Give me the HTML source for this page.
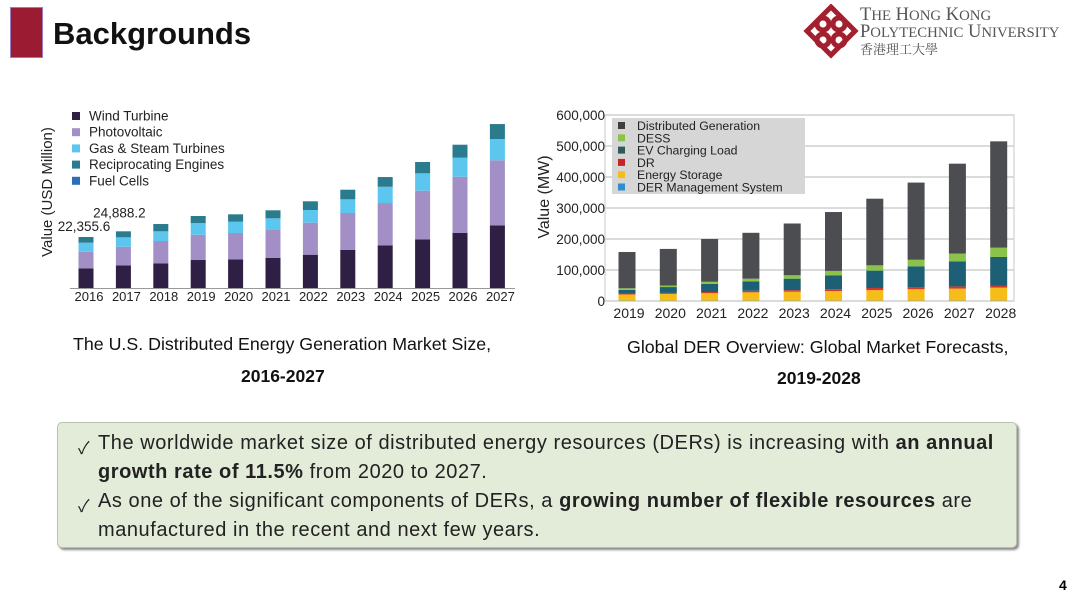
<!DOCTYPE html>
<html><head><meta charset="utf-8">
<style>
body{margin:0;width:1080px;height:605px;background:#fff;position:relative;overflow:hidden;font-family:"Liberation Sans","Noto Sans CJK TC",sans-serif;}
.abs{position:absolute;}
#box{left:57px;top:422px;width:958px;height:124px;background:#e3ebd9;border:1px solid #b9c2b0;border-radius:5px;box-shadow:2px 2px 2px #8a8a8a;}
.ln{position:absolute;left:40px;font-size:20px;letter-spacing:0.55px;color:#222;white-space:nowrap;}
.ck{position:absolute;left:20px;font-size:17px;color:#222;}
</style></head><body>
<div class="abs" style="left:10px;top:7px;width:31px;height:49px;background:#9b1b33;border:1px solid #9a7cc0;"></div>
<div class="abs" style="left:53px;top:16px;font-size:31px;font-weight:bold;color:#111;">Backgrounds</div>

<div class="abs" style="left:801px;top:4px;width:60px;height:58px;">
<svg width="60" height="58" viewBox="0 0 60 58"><g fill="none" stroke="#a3202f" stroke-width="5"><rect x="13" y="10" width="34" height="34" transform="rotate(45 30 27)"/><circle cx="22" cy="20" r="6"/><circle cx="38" cy="20" r="6"/><circle cx="22" cy="36" r="6"/><circle cx="38" cy="36" r="6"/></g></svg></div>
<div class="abs" style="left:860px;top:7px;font-family:'Liberation Serif',serif;color:#555;font-size:18.5px;line-height:16px;white-space:nowrap;">T<span style="font-size:14.8px">HE</span> H<span style="font-size:14.8px">ONG</span> K<span style="font-size:14.8px">ONG</span><br>P<span style="font-size:14.8px">OLYTECHNIC</span> U<span style="font-size:14.8px">NIVERSITY</span><br><span style="font-family:'Noto Serif CJK SC',serif;font-size:13px;">香港理工大學</span></div>

<svg class="abs" style="left:0;top:0" width="1080" height="400" id="charts"></svg>

<div class="abs" style="left:73px;top:334px;font-size:17.8px;color:#111;white-space:nowrap;">The U.S. Distributed Energy Generation Market Size,</div>
<div class="abs" style="left:241px;top:366px;font-size:17.5px;font-weight:bold;color:#111;">2016-2027</div>
<div class="abs" style="left:627px;top:337px;font-size:17.8px;color:#111;white-space:nowrap;">Global DER Overview: Global Market Forecasts,</div>
<div class="abs" style="left:777px;top:368px;font-size:17.5px;font-weight:bold;color:#111;">2019-2028</div>

<div class="abs" id="box">
<span class="ck" style="top:11px">✓</span><div class="ln" style="top:9px">The worldwide market size of distributed energy resources (DERs) is increasing with <b>an annual</b></div>
<div class="ln" style="top:38px"><b>growth rate of 11.5%</b> from 2020 to 2027.</div>
<span class="ck" style="top:69px">✓</span><div class="ln" style="top:67px">As one of the significant components of DERs, a <b>growing number of flexible resources</b> are</div>
<div class="ln" style="top:96px">manufactured in the recent and next few years.</div>
</div>
<div class="abs" style="left:1059px;top:577px;font-size:14px;font-weight:bold;">4</div>

<script>
// Left chart data (USD million)
const usYears = [2016,2017,2018,2019,2020,2021,2022,2023,2024,2025,2026,2027];
const usWind = [8630,9950,10830,12270,12580,13150,14600,16660,18710,21350,24110,27480];
const usPV = [7280,8150,9770,11090,11530,12580,14030,16220,18540,21300,24680,28490];
const usGas = [3950,4120,4250,5130,4950,4820,5570,6000,7140,7630,8330,9340];
const usRecip = [2500,2630,3200,3070,3240,3510,3810,4210,4250,4950,5700,6570];
const usFuel = [0,0,0,0,0,0,0,0,0,0,0,0];
const usLabels = ["22,355.6","24,888.2"];
// Right chart data (MW, thousands)
const derYears = [2019,2020,2021,2022,2023,2024,2025,2026,2027,2028];
const derDERMS = [1,1,1,1,1,1,1,1,1,1];
const derStorage = [20,22,24,27,29,31,34,37,39,42];
const derDR = [3,3,4,5,5,6,7,7,7,7];
const derEV = [12,19,26,30,37,45,56,67,81,92];
const derDESS = [5,5,7,9,11,14,17,21,25,30];
const derDG = [117,118,138,148,167,190,215,249,290,343];
const derTicks = [0,100,200,300,400,500,600];

const svg = document.getElementById('charts');
const NS = 'http://www.w3.org/2000/svg';
function mk(tag, attrs, parent){const e=document.createElementNS(NS,tag);for(const k in attrs)e.setAttribute(k,attrs[k]);(parent||svg).appendChild(e);return e;}

// ---- Left chart ----
const L = {x0:86, dx:37.4, base:288, k:51/22360, w:15};
const lx = i => L.x0 + i*L.dx;
const ly = v => L.base - v*L.k;
const lg = mk('g',{});


const lSeries = [[usWind,'#2e1f45','wind-turbine'],[usPV,'#a28fc6','photovoltaic'],[usGas,'#5cc6ef','gas-steam'],[usRecip,'#2a7b8d','reciprocating'],[usFuel,'#2a6fb5','fuel-cells']];
const lBase = usYears.map(()=>0);
lSeries.forEach(([vals,col,nm])=>{
  vals.forEach((v,i)=>{
    if(v<=0) return;
    const r = mk('rect',{x:lx(i)-L.w/2,y:ly(lBase[i]+v),width:L.w,height:v*L.k,fill:col},lg);
    
    
    lBase[i]+=v;
  });
});
mk('line',{x1:70,x2:515,y1:L.base+0.5,y2:L.base+0.5,stroke:'#999'},lg);
usYears.forEach((y,i)=>{const t=mk('text',{x:lx(i)+3,y:301,'font-size':13,'text-anchor':'middle',fill:'#222'},lg);t.textContent=y;
});
usLabels.forEach((s,i)=>{const t=mk('text',{x:lx(i)+(i?-4:-2),y:ly(lBase[i])-(i?14:6),'font-size':13.5,'text-anchor':'middle',fill:'#222'},lg);t.textContent=s;
});
const lyt = mk('text',{x:0,y:0,'font-size':15,'text-anchor':'middle',fill:'#222',transform:'translate(52,192) rotate(-90)'},lg);
lyt.textContent='Value (USD Million)';

const lLeg=['Wind Turbine','Photovoltaic','Gas & Steam Turbines','Reciprocating Engines','Fuel Cells'];
lLeg.forEach((n,i)=>{const y=116+i*16.2;
 const r=mk('rect',{x:72,y:y-4,width:8,height:8,fill:lSeries[i][1]},lg);
 const t=mk('text',{x:89,y:y+4.5,'font-size':13.5,fill:'#222'},lg);t.textContent=n;});

// ---- Right chart ----
const R = {x0:627, dx:41.3, base:301, k:31/100, w:17, left:605, right:1014};
const rx = i => R.x0 + i*R.dx;
const ry = v => R.base - v*R.k;
const rg = mk('g',{});


mk('rect',{x:R.left,y:ry(600),width:R.right-R.left,height:R.base-ry(600),fill:'#fff',stroke:'#c8c8c8'},rg);
derTicks.forEach(v=>{
  mk('line',{x1:R.left,x2:R.right,y1:ry(v),y2:ry(v),stroke:'#cfcfcf','stroke-width':1.5},rg);
  const t=mk('text',{x:605,y:ry(v)+5,'font-size':13.5,'text-anchor':'end',fill:'#222'},rg);
  t.textContent = v===0?'0':v+',000';
  
});
const rSeries=[[derDERMS,'#2e8fd0','derms'],[derStorage,'#f6bd1a','energy-storage'],[derDR,'#d0392a','dr'],[derEV,'#1d5f75','ev-charging'],[derDESS,'#8bc34a','dess'],[derDG,'#4b4d50','distributed-generation']];
const rBase=derYears.map(()=>0);
rSeries.forEach(([vals,col,nm])=>{
  vals.forEach((v,i)=>{
    const r=mk('rect',{x:rx(i)-R.w/2,y:ry(rBase[i]+v),width:R.w,height:v*R.k,fill:col},rg);
    
    
    rBase[i]+=v;
  });
});
derYears.forEach((y,i)=>{const t=mk('text',{x:rx(i)+2,y:318,'font-size':14,'text-anchor':'middle',fill:'#222'},rg);t.textContent=y;
});
const ryt=mk('text',{x:0,y:0,'font-size':16,'text-anchor':'middle',fill:'#222',transform:'translate(549,197) rotate(-90)'},rg);
ryt.textContent='Value (MW)';
const lb=mk('rect',{x:612,y:118,width:193,height:76,fill:'#d6d6d6'},rg);

const rLeg=[['Distributed Generation','#3e3e3e'],['DESS','#8bc34a'],['EV Charging Load','#2f5a5a'],['DR','#c8222a'],['Energy Storage','#f6bd1a'],['DER Management System','#2e8fd0']];
rLeg.forEach(([n,c],i)=>{const y=126+i*12.3;
 const r=mk('rect',{x:618,y:y-4,width:7,height:7,fill:c},rg);
 const t=mk('text',{x:637,y:y+4,'font-size':12.3,fill:'#222'},rg);t.textContent=n;});
</script>
</body></html>
